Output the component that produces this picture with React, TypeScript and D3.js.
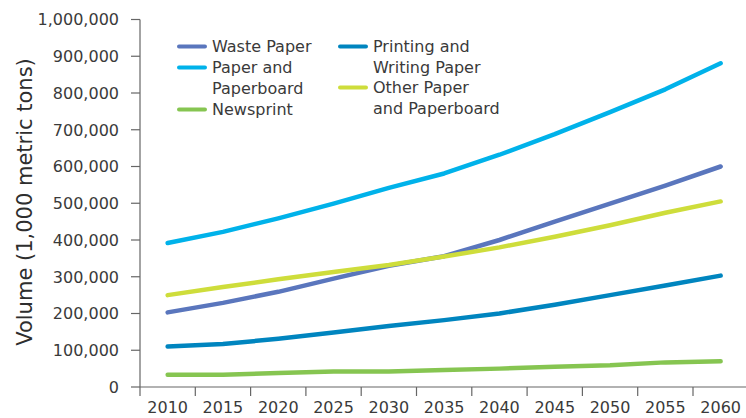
import { useMemo } from "react";
import * as d3 from "d3";

const WIDTH = 746;
const HEIGHT = 418;
const FONT = "'DejaVu Sans', sans-serif";

const years = [2010, 2015, 2020, 2025, 2030, 2035, 2040, 2045, 2050, 2055, 2060];
const yTicks = [0, 100000, 200000, 300000, 400000, 500000, 600000, 700000, 800000, 900000, 1000000];

const wastePaper = [203000, 229000, 259000, 295000, 330000, 356000, 400000, 450000, 499000, 548000, 600000];
const paperAndPaperboard = [392000, 422000, 459000, 499000, 542000, 581000, 632000, 688000, 748000, 810000, 881000];
const newsprint = [33000, 33000, 38000, 42000, 42000, 46000, 50000, 55000, 59000, 67000, 70000];
const printingWriting = [110000, 117000, 131000, 148000, 166000, 182000, 200000, 224000, 250000, 276000, 303000];
const otherPaper = [250000, 272000, 293000, 313000, 332000, 355000, 380000, 409000, 440000, 474000, 505000];

type Series = { name: string[]; values: number[]; color: string };

const series: Series[] = [
  { name: ["Waste Paper"], values: wastePaper, color: "#5a76bd" },
  { name: ["Paper and", "Paperboard"], values: paperAndPaperboard, color: "#00b2ea" },
  { name: ["Newsprint"], values: newsprint, color: "#86c551" },
  { name: ["Printing and", "Writing Paper"], values: printingWriting, color: "#0085bf" },
  { name: ["Other Paper", "and Paperboard"], values: otherPaper, color: "#cedd3b" },
];

// legend layout: [column x, first baseline]
const legendPos = [
  [179, 52],
  [179, 73],
  [179, 115],
  [340, 52],
  [340, 93],
];

const AXIS_X = 140;
const AXIS_Y = 387;
const TOP_Y = 19.5;

export default function App() {
  const x = useMemo(
    () => d3.scaleBand<number>().domain(years).range([AXIS_X, AXIS_X + 55.3 * years.length]).padding(0),
    []
  );
  const y = useMemo(() => d3.scaleLinear().domain([0, 1000000]).range([AXIS_Y, TOP_Y]), []);
  const fmt = d3.format(",");

  const line = d3
    .line<number>()
    .x((_, i) => (x(years[i]) ?? 0) + x.bandwidth() / 2)
    .y((d) => y(d));

  return (
    <svg
      width={WIDTH}
      height={HEIGHT}
      style={{ position: "absolute", left: 0, top: 0, background: "#fff" }}
      fontFamily={FONT}
    >
      {/* y axis */}
      <line x1={AXIS_X} x2={AXIS_X} y1={TOP_Y} y2={AXIS_Y} stroke="#666" strokeWidth={1.2} />
      {yTicks.map((t) => (
        <g key={t}>
          <line x1={AXIS_X - 9} x2={AXIS_X} y1={y(t)} y2={y(t)} stroke="#666" strokeWidth={1.2} />
          <text x={AXIS_X - 21} y={y(t)} dy="0.36em" textAnchor="end" fontSize={16} fill="#3a3a3a">
            {fmt(t)}
          </text>
        </g>
      ))}
      <text
        transform={`translate(32, 202) rotate(-90)`}
        textAnchor="middle"
        fontSize={21}
        fill="#2e2e2e"
      >
        Volume (1,000 metric tons)
      </text>

      {/* x axis */}
      <line x1={AXIS_X} x2={WIDTH} y1={AXIS_Y} y2={AXIS_Y} stroke="#666" strokeWidth={1.2} />
      {years.map((yr) => (
        <g key={yr}>
          <line x1={x(yr)} x2={x(yr)} y1={AXIS_Y} y2={AXIS_Y + 9} stroke="#666" strokeWidth={1.2} />
          <text
            x={(x(yr) ?? 0) + x.bandwidth() / 2}
            y={AXIS_Y + 26}
            textAnchor="middle"
            fontSize={16}
            fill="#3a3a3a"
          >
            {yr}
          </text>
        </g>
      ))}

      {/* lines */}
      {series.map((s) => (
        <path
          key={s.name.join(" ")}
          d={line(s.values) || undefined}
          fill="none"
          stroke={s.color}
          strokeWidth={4.5}
          strokeLinecap="round"
          strokeLinejoin="round"
        />
      ))}

      {/* legend */}
      {series.map((s, i) => {
        const [lx, ly] = legendPos[i];
        return (
          <g key={"leg" + i}>
            <line x1={lx} x2={lx + 26} y1={ly - 5.5} y2={ly - 5.5} stroke={s.color} strokeWidth={4} strokeLinecap="round" />
            {s.name.map((n, j) => (
              <text key={j} x={lx + 33} y={ly + j * 20.5} fontSize={16} fill="#3a3a3a">
                {n}
              </text>
            ))}
          </g>
        );
      })}
    </svg>
  );
}
